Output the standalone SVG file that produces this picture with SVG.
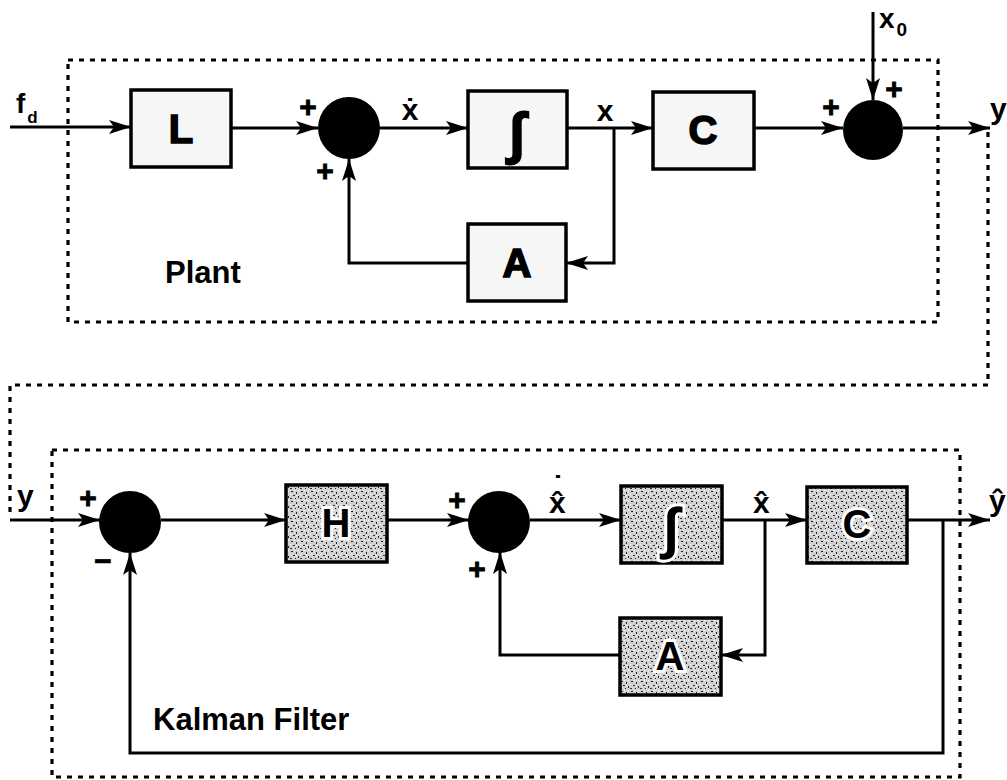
<svg xmlns="http://www.w3.org/2000/svg" width="1007" height="780" viewBox="0 0 1007 780">
<style>
.box{stroke:#000;stroke-width:3.5}
.plain{fill:#f6f6f6}
.tex{fill:url(#speck)}
.sum{fill:#000}
.wire{fill:none;stroke:#000;stroke-width:3;marker-end:url(#arr)}
.dot{fill:none;stroke:#000;stroke-width:3.2;stroke-dasharray:5 6}
text{font-family:"Liberation Sans",Arial,"DejaVu Sans",sans-serif;font-weight:bold;fill:#000}
.big{font-size:40px;text-anchor:middle;stroke:#000;stroke-width:1.6}
.bigw{font-size:40px;text-anchor:middle;stroke:#fff;stroke-width:6;paint-order:stroke}
.lbl{font-size:30px;text-anchor:middle}
.pm{font-size:30px;text-anchor:middle;stroke:#000;stroke-width:0.8}
.ttl{font-size:31px}
</style>
<defs>
<marker id="arr" markerUnits="userSpaceOnUse" markerWidth="24" markerHeight="16" refX="22" refY="7" orient="auto" overflow="visible">
<path d="M0,0 L22,7 L0,14 L5,7 z" fill="#000"/>
</marker>
<pattern id="speck" width="10" height="10" patternUnits="userSpaceOnUse">
<rect width="10" height="10" fill="#d2d2d2"/>
<rect x="1" y="1" width="2" height="1" fill="#222"/>
<rect x="6" y="2" width="1" height="2" fill="#222"/>
<rect x="3" y="5" width="2" height="1" fill="#333"/>
<rect x="8" y="6" width="1" height="2" fill="#222"/>
<rect x="0" y="8" width="2" height="1" fill="#333"/>
<rect x="5" y="8" width="1" height="1" fill="#222"/>
<rect x="4" y="0" width="1" height="1" fill="#fff"/>
<rect x="8" y="0" width="1" height="1" fill="#fff"/>
<rect x="0" y="4" width="1" height="1" fill="#fff"/>
<rect x="6" y="5" width="1" height="1" fill="#fff"/>
</pattern>
</defs>

<g id="frames">
<rect class="dot" x="68" y="60" width="870" height="262"/>
<path class="dot" d="M988,132 V385 H10 V515"/>
<rect class="dot" x="52" y="450" width="908" height="327"/>
<text class="ttl" x="165" y="283">Plant</text>
<text class="ttl" x="153" y="730">Kalman Filter</text>
</g>

<g id="connectors">
<path class="wire" d="M10,127 H131"/>
<path class="wire" d="M231,128 H318"/>
<path class="wire" d="M380,128 H468"/>
<path class="wire" d="M567,128 H653"/>
<path class="wire" d="M614,128 V263 H566"/>
<path class="wire" d="M468,263 H349 V159"/>
<path class="wire" d="M754,128 H843"/>
<path class="wire" d="M873,12 V100"/>
<path class="wire" d="M903,128 H990"/>
<path class="wire" d="M10,520 H100"/>
<path class="wire" d="M161,520 H286"/>
<path class="wire" d="M387,520 H469"/>
<path class="wire" d="M530,520 H621"/>
<path class="wire" d="M722,520 H807"/>
<path class="wire" d="M765,520 V655 H721"/>
<path class="wire" d="M620,655 H500 V552"/>
<path class="wire" d="M907,520 H990"/>
<path class="wire" d="M943,520 V753 H130 V553"/>
</g>

<g id="node-L">
<rect class="box plain" x="131" y="90" width="100" height="77"/>
<text class="big" x="181" y="143">L</text>
</g>
<g id="node-sum1">
<circle class="sum" cx="349" cy="128" r="31"/>
<text class="pm" x="308" y="117">+</text>
<text class="pm" x="325" y="181">+</text>
</g>
<g id="node-int1">
<rect class="box plain" x="468" y="91" width="99" height="77"/>
<text class="big" x="517" y="152" style="font-size:56px">∫</text>
</g>
<g id="node-C1">
<rect class="box plain" x="653" y="92" width="101" height="77"/>
<text class="big" x="703" y="144">C</text>
</g>
<g id="node-A1">
<rect class="box plain" x="468" y="224" width="98" height="77"/>
<text class="big" x="517" y="277">A</text>
</g>
<g id="node-sum2">
<circle class="sum" cx="873" cy="130" r="30"/>
<text class="pm" x="831" y="117">+</text>
<text class="pm" x="894" y="99">+</text>
</g>
<g id="labels-top">
<text x="16" y="113" style="font-size:28px">f<tspan dx="2" dy="10" style="font-size:17px">d</tspan></text>
<text class="lbl" x="410" y="120">ẋ</text>
<text class="lbl" x="605" y="121">x</text>
<text x="879" y="28" style="font-size:28px">x<tspan dx="2" dy="8" style="font-size:19px">0</tspan></text>
<text x="990" y="119" style="font-size:30px">y</text>
</g>

<g id="node-sum3">
<circle class="sum" cx="130" cy="522" r="31"/>
<text class="pm" x="88" y="508">+</text>
<text class="pm" x="103" y="571">−</text>
</g>
<g id="node-H">
<rect class="box tex" x="286" y="485" width="101" height="77"/>
<text class="bigw" x="336" y="537">H</text>
</g>
<g id="node-sum4">
<circle class="sum" cx="499" cy="522" r="31"/>
<text class="pm" x="457" y="510">+</text>
<text class="pm" x="477" y="579">+</text>
</g>
<g id="node-int2">
<rect class="box tex" x="621" y="486" width="101" height="77"/>
<text class="bigw" x="671" y="547" style="font-size:56px">∫</text>
</g>
<g id="node-C2">
<rect class="box tex" x="807" y="487" width="100" height="76"/>
<text class="bigw" x="857" y="538">C</text>
</g>
<g id="node-A2">
<rect class="box tex" x="620" y="618" width="101" height="77"/>
<text class="bigw" x="670" y="670">A</text>
</g>
<g id="labels-bottom">
<text x="17" y="506" style="font-size:30px">y</text>
<text x="549" y="513" style="font-size:30px">x̂<tspan x="553" y="497" style="font-size:30px">˙</tspan></text>
<text x="753" y="513" style="font-size:30px">x̂</text>
<text x="989" y="511" style="font-size:30px">ŷ</text>
</g>
</svg>
